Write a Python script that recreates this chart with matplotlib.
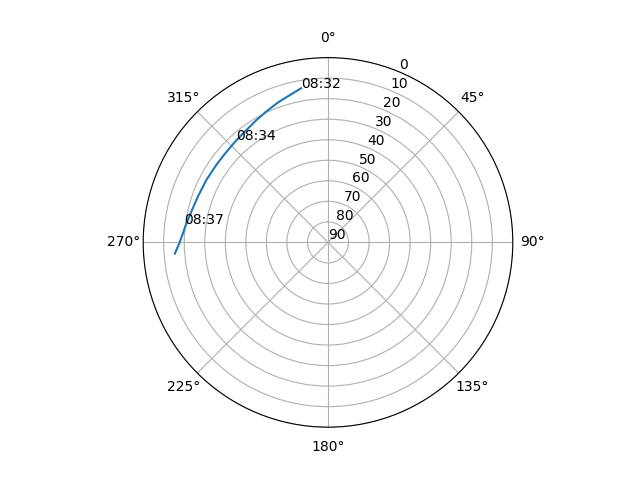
import numpy as np
import matplotlib
matplotlib.use("Agg")
import matplotlib.pyplot as plt

# satellite track: azimuth (deg) and elevation (deg)
azimuth = [350.1, 346.2, 340.4, 334.8, 329.6, 324.9, 320.0, 317.9, 314.6,
           310.0, 304.7, 297.1, 289.3, 281.9, 277.2, 274.8, 270.1, 265.8]
elevation = [13.8, 15.6, 17.6, 19.5, 21.0, 22.2, 23.0, 23.2, 23.6,
             23.8, 23.8, 23.4, 22.8, 21.6, 20.3, 19.6, 17.8, 15.2]

# time annotations along the track
label_az = [350.1, 317.9, 277.2]
label_el = [13.8, 23.1, 19.3]
label_txt = ["08:32", "08:34", "08:37"]

fig = plt.figure(figsize=(6.4, 4.8), dpi=100)
ax = fig.add_subplot(111, projection="polar")
ax.set_theta_zero_location("N")
ax.set_theta_direction(-1)

ax.plot(np.deg2rad(azimuth), elevation)
for a, e, lab in zip(label_az, label_el, label_txt):
    ax.text(np.deg2rad(a), e, lab)

ax.set_ylim(90, 0)
ax.set_yticks(list(range(0, 91, 10)))
fig.savefig("out.png")
